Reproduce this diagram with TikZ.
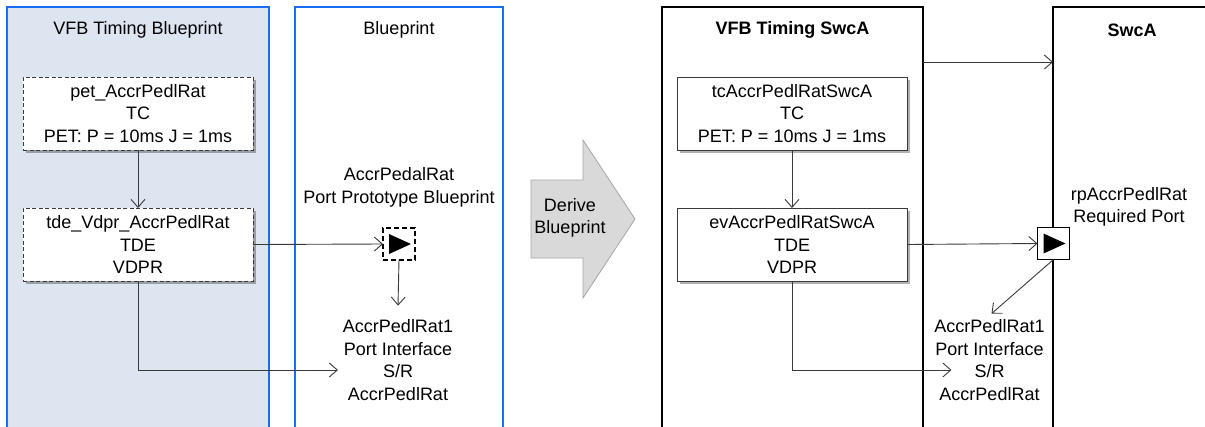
\documentclass[tikz,border=0pt]{standalone}
\usepackage{fontspec}
\setmainfont{Liberation Sans}
\usetikzlibrary{arrows.meta,shadows,calc}
\definecolor{panelblue}{HTML}{1A6EF5}
\definecolor{panelfill}{HTML}{DCE5F0}
\definecolor{linegray}{HTML}{3A3A3A}
\definecolor{arrowfill}{HTML}{D9D9D9}
\definecolor{arrowedge}{HTML}{A6A6A6}
\begin{document}
\begin{tikzpicture}[x=1pt,y=-1pt,
  every node/.style={font=\fontsize{18}{22.5}\selectfont, inner sep=0pt, outer sep=0pt},
  panelb/.style={draw=panelblue, line width=2pt, anchor=north west},
  panelk/.style={draw=black, line width=2pt, anchor=north west},
  tbox/.style={draw=linegray, line width=1pt, fill=white, minimum width=230pt, minimum height=73pt, align=center,
    drop shadow={shadow xshift=3pt, shadow yshift=-3pt, opacity=0.3, fill=black}},
  dbox/.style={tbox, dash pattern=on 4pt off 2.5pt},
  conn/.style={draw=linegray, line width=0.9pt, -{Straight Barb[length=8pt,width=14pt]}},
  lbl/.style={align=center},
  porttri/.style={minimum size=32pt, fill=white,
    path picture={\fill[black] ([shift={(-10pt,-10pt)}]path picture bounding box.center)
      -- ([shift={(12pt,0pt)}]path picture bounding box.center)
      -- ([shift={(-10pt,10pt)}]path picture bounding box.center) -- cycle;}},
  portd/.style={porttri, draw=black, line width=1.6pt, dash pattern=on 5pt off 3pt},
  ports/.style={porttri, draw=black, line width=1.6pt},
]
\clip (0,0) rectangle (1205,426);
\fill[white] (0,0) rectangle (1205,426);

% panels
\node[panelb, fill=panelfill, minimum width=262pt, minimum height=440pt] (vbp) at (7,7) {};
\node[panelb, fill=white, minimum width=208pt, minimum height=440pt] (bp) at (295,7) {};
\node[panelk, fill=white, minimum width=261pt, minimum height=440pt] (vfbs) at (662,7) {};
\node[panelk, fill=white, minimum width=158pt, minimum height=440pt] (swca) at (1053,7) {};

\node (t1) at ([yshift=-23pt]vbp.north) {VFB Timing Blueprint};
\node (t2) at ([yshift=-23pt]bp.north) {Blueprint};
\node[font=\fontsize{18}{22.5}\selectfont\bfseries] (t3) at ([yshift=-23pt]vfbs.north) {VFB Timing SwcA};
\node[font=\fontsize{18}{22.5}\selectfont\bfseries] (t4) at ([yshift=-23pt]swca.north) {SwcA};

% left boxes
\node[dbox] (pet) at (138,113.5) {pet\_AccrPedlRat\\TC\\PET: P = 10ms J = 1ms};
\node[dbox] (tde) at (138,244.5) {tde\_Vdpr\_AccrPedlRat\\TDE\\VDPR};

% blueprint
\node[lbl] (bplbl) at (399,187.5) {AccrPedalRat\\Port Prototype Blueprint};
\node[portd] (bpport) at (399,244) {};
\node[lbl] (pi1) at (398,360) {AccrPedlRat1\\Port Interface\\S/R\\AccrPedlRat};

% derive arrow
\filldraw[fill=arrowfill, draw=arrowedge, line width=0.8pt]
  (531,180) -- (583,180) -- (583,140) -- (635,219) -- (583,298) -- (583,258) -- (531,258) -- cycle;
\node[lbl] (derive) at (570,218) {Derive\\Blueprint};

% right boxes
\node[tbox] (tc) at (792,113.5) {tcAccrPedlRatSwcA\\TC\\PET: P = 10ms J = 1ms};
\node[tbox] (ev) at (792,244.5) {evAccrPedlRatSwcA\\TDE\\VDPR};

\node[ports] (rp) at (1053.5,243.5) {};
\node[lbl] (rplbl) at (1129,207) {rpAccrPedlRat\\Required Port};
\node[lbl] (pi2) at (989.5,360) {AccrPedlRat1\\Port Interface\\S/R\\AccrPedlRat};

% connectors
\draw[conn] (pet) -- (tde);
\draw[conn] (tde.east) -- (bpport.west);
\draw[conn] (tde.south) |- ([xshift=-5pt,yshift=-10pt]pi1.west);
\draw[conn] (bpport.south) -- ([yshift=14pt]pi1.north);

\draw[conn] (tc) -- (ev);
\draw[conn] (ev.east) -- (rp.west);
\draw[conn] (ev.south) |- ([xshift=17pt,yshift=-10pt]pi2.west);
\draw[conn] (rp.south) -- ([xshift=2pt,yshift=6pt]pi2.north);
\draw[conn] ([yshift=-55pt]vfbs.north east) -- ([yshift=-55pt]swca.north west);
\end{tikzpicture}
\end{document}
